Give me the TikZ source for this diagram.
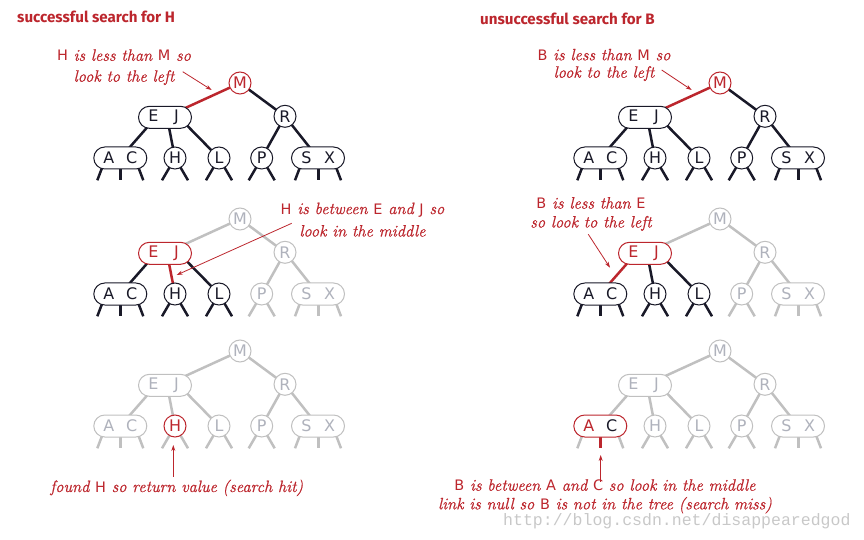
\documentclass[tikz,border=0pt]{standalone}
\usepackage{fontspec}
\usetikzlibrary{arrows.meta}
\newfontfamily\keyfont{DejaVu Sans}
\newfontfamily\titlefont{Fira Sans}
\newfontfamily\wmfont{Liberation Mono}
\newfontfamily\notefont{Latin Modern Roman}[ItalicFeatures={FakeBold=0.8}]
\definecolor{hl}{RGB}{188,38,45}
\definecolor{ink}{RGB}{25,25,40}
\definecolor{fadeline}{RGB}{192,192,192}
\definecolor{fadetext}{RGB}{175,178,188}
\definecolor{wmgray}{RGB}{200,200,200}
\newcommand\ccol{}
\newcommand\key[1]{{\keyfont\upshape\fontsize{14.5}{14.5}\selectfont #1}}

\tikzset{
  nodebase/.style={font=\keyfont\fontsize{16}{16}\selectfont, fill=white, line width=1bp, inner sep=0pt},
  twonode/.style={nodebase, circle, minimum size=22bp},
  threenode/.style={nodebase, rectangle, rounded corners=11bp, minimum width=53bp, minimum height=22bp},
  blk/.style={draw=ink, text=ink},
  hot/.style={draw=hl, text=hl},
  fad/.style={draw=fadeline, text=fadetext},
  link/.style={line width=2.5bp},
  lblk/.style={link, draw=ink},
  lhot/.style={link, draw=hl},
  lfad/.style={link, draw=fadeline},
  midstub/.style={line width=3bp},
  cM/.style={blk}, cEJ/.style={blk}, cR/.style={blk}, cAC/.style={blk},
  cH/.style={blk}, cL/.style={blk}, cP/.style={blk}, cSX/.style={blk},
  lME/.style={lblk}, lMR/.style={lblk}, lEA/.style={lblk}, lEH/.style={lblk},
  lEL/.style={lblk}, lRP/.style={lblk}, lRS/.style={lblk},
  sAC/.style={lblk}, sACm/.style={lblk, midstub}, sH/.style={lblk}, sL/.style={lblk},
  sP/.style={lblk}, sSX/.style={lblk}, sSXm/.style={lblk, midstub},
  lowerfad/.style={cM/.style={fad}, cR/.style={fad}, cP/.style={fad}, cSX/.style={fad},
    lME/.style={lfad}, lMR/.style={lfad}, lRP/.style={lfad}, lRS/.style={lfad},
    sP/.style={lfad}, sSX/.style={lfad}, sSXm/.style={lfad, midstub}},
  allfad/.style={lowerfad, cEJ/.style={fad}, cAC/.style={fad}, cH/.style={fad}, cL/.style={fad},
    lEA/.style={lfad}, lEH/.style={lfad}, lEL/.style={lfad},
    sAC/.style={lfad}, sACm/.style={lfad, midstub}, sH/.style={lfad}, sL/.style={lfad}},
  note/.style={text=hl, font=\notefont\itshape\fontsize{16.5}{21}\selectfont, align=center, inner sep=0pt, anchor=base},
  title/.style={text=hl, font=\titlefont\bfseries\fontsize{15.2}{15.2}\selectfont, inner sep=0pt, anchor=base west},
  pointer/.style={draw=hl, line width=0.8bp, -{Stealth[length=6bp,width=4bp]}},
}

\newcommand\bst[1]{%
  \coordinate (#1m) at (0,0);
  \coordinate (#1ej) at (-75,34.3);
  \coordinate (#1r) at (45,33.3);
  \coordinate (#1ac) at (-119.7,75);
  \coordinate (#1h) at (-65,75);
  \coordinate (#1l) at (-21,75);
  \coordinate (#1p) at (21.7,75);
  \coordinate (#1sx) at (78,75);
  \coordinate (#1ejl) at (-84,34.3);
  \coordinate (#1ejm) at (-73,34.3);
  \coordinate (#1ejr) at (-61,34.3);
  \coordinate (#1acl) at (-134.2,75);
  \coordinate (#1acr) at (-105.2,75);
  \coordinate (#1acle) at (-142.7,97.3);
  \coordinate (#1acme) at (-119.7,97.3);
  \coordinate (#1acre) at (-96.7,97.3);
  \coordinate (#1hle) at (-78,97.3);
  \coordinate (#1hre) at (-52,97.3);
  \coordinate (#1lle) at (-34,97.3);
  \coordinate (#1lre) at (-8,97.3);
  \coordinate (#1ple) at (8.7,97.3);
  \coordinate (#1pre) at (34.7,97.3);
  \coordinate (#1sxl) at (63.5,75);
  \coordinate (#1sxr) at (92.5,75);
  \coordinate (#1sxle) at (55,97.3);
  \coordinate (#1sxme) at (78,97.3);
  \coordinate (#1sxre) at (101,97.3);
  \draw[lME] (#1m) -- (#1ej);
  \draw[lMR] (#1m) -- (#1r);
  \draw[lEA] (#1ejl) -- (#1ac);
  \draw[lEH] (#1ejm) -- (#1h);
  \draw[lEL] (#1ejr) -- (#1l);
  \draw[lRP] (#1r) -- (#1p);
  \draw[lRS] (#1r) -- (#1sx);
  \draw[sAC] (#1acl) -- (#1acle);
  \draw[sACm] (#1ac) -- (#1acme);
  \draw[sAC] (#1acr) -- (#1acre);
  \draw[sH] (#1h) -- (#1hle);
  \draw[sH] (#1h) -- (#1hre);
  \draw[sL] (#1l) -- (#1lle);
  \draw[sL] (#1l) -- (#1lre);
  \draw[sP] (#1p) -- (#1ple);
  \draw[sP] (#1p) -- (#1pre);
  \draw[sSX] (#1sxl) -- (#1sxle);
  \draw[sSXm] (#1sx) -- (#1sxme);
  \draw[sSX] (#1sxr) -- (#1sxre);
  \node[twonode, cM] (#1M) at (#1m) {M};
  \node[threenode, cEJ] (#1EJ) at (#1ej) {\makebox[23bp]{E}\makebox[23bp]{J}};
  \node[twonode, cR] (#1R) at (#1r) {R};
  \node[threenode, cAC] (#1AC) at (#1ac) {\makebox[23bp]{A}\makebox[23bp]{\ccol C}};
  \node[twonode, cH] (#1H) at (#1h) {H};
  \node[twonode, cL] (#1L) at (#1l) {L};
  \node[twonode, cP] (#1P) at (#1p) {P};
  \node[threenode, cSX] (#1SX) at (#1sx) {\makebox[23bp]{S}\makebox[23bp]{X}};
}

\begin{document}
\begin{tikzpicture}[x=1bp, y=-1bp]
\useasboundingbox (0,0) rectangle (864,540);

% titles
\node[title] (t1) at (17,23) {successful search for H};
\node[title] (t2) at (480,25) {unsuccessful search for B};

% left column
\begin{scope}[shift={(240,83)}, cM/.style={hot}, lME/.style={lhot}]
  \bst{a}
\end{scope}
\begin{scope}[shift={(240,219)}, lowerfad, cEJ/.style={hot}, lEH/.style={lhot}]
  \bst{b}
\end{scope}
\begin{scope}[shift={(240,351)}, allfad, cH/.style={hot}]
  \bst{c}
\end{scope}

% right column
\begin{scope}[shift={(720,83)}, cM/.style={hot}, lME/.style={lhot}]
  \bst{d}
\end{scope}
\begin{scope}[shift={(720,219)}, lowerfad, cEJ/.style={hot}, lEA/.style={lhot}]
  \bst{e}
\end{scope}
\begin{scope}[shift={(720,351)}, allfad, cAC/.style={hot}, sACm/.style={lhot, line width=3.5bp}]
  \renewcommand\ccol{\color{ink}}
  \bst{f}
\end{scope}

% annotations (anchor = baseline of last line)
\node[note] (n1) at (124,81.7) {\key{H} is less than \key{M} so\\look to the left};
\node[note, font=\notefont\itshape\fontsize{16.5}{22.5}\selectfont] (n2) at (362.5,236.5) {\key{H} is between \key{E} and \key{J} so\\look in the middle};
\node[note] (n3) at (176.7,492) {found \key{H} so return value (search hit)};
\node[note, font=\notefont\itshape\fontsize{16.5}{17.5}\selectfont] (n4) at (604,77.7) {\key{B} is less than \key{M} so\\look to the left};
\node[note, font=\notefont\itshape\fontsize{16.5}{19}\selectfont] (n5) at (591,227.5) {\key{B} is less than \key{E}\\so look to the left};
\node[note, font=\notefont\itshape\fontsize{16.5}{18.7}\selectfont] (n6) at (605,509.3) {\key{B} is between \key{A} and \key{C} so look in the middle\\link is null so \key{B} is not in the tree (search miss)};

% pointers
\coordinate (p1s) at (182.7,71.7); \coordinate (p1e) at (211.7,90);
\coordinate (p2s) at (291.7,223.3); \coordinate (p2e) at (176.7,275);
\coordinate (p3s) at (173.3,476.7); \coordinate (p3e) at (173.3,445);
\coordinate (p4s) at (661.7,70); \coordinate (p4e) at (691.7,90);
\coordinate (p5s) at (588.3,234.3); \coordinate (p5e) at (610,267.7);
\coordinate (p6s) at (600.7,481.7); \coordinate (p6e) at (600.7,455);
\draw[pointer] (p1s) -- (p1e);
\draw[pointer] (p2s) -- (p2e);
\draw[pointer] (p3s) -- (p3e);
\draw[pointer] (p4s) -- (p4e);
\draw[pointer] (p5s) -- (p5e);
\draw[pointer] (p6s) -- (p6e);

% watermark
\node[anchor=base west, inner sep=0pt, text=wmgray, font=\wmfont\fontsize{16.6}{16.6}\selectfont] (wm) at (503,525) {http://blog.csdn.net/disappearedgod};
\end{tikzpicture}
\end{document}
